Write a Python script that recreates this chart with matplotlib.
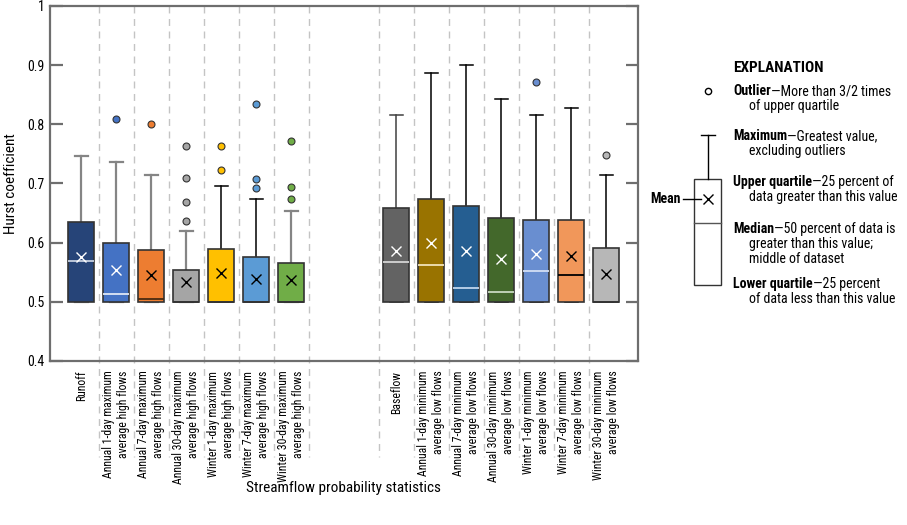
import matplotlib

matplotlib.use("Agg")
import matplotlib.pyplot as plt
from matplotlib.lines import Line2D
from matplotlib.patches import Rectangle
from matplotlib.ticker import FormatStrFormatter, MultipleLocator

# ---- data --------------------------------------------------------------------
labels = [
    "Runoff",
    "Annual 1-day maximum\naverage high flows",
    "Annual 7-day maximum\naverage high flows",
    "Annual 30-day maximum\naverage high flows",
    "Winter 1-day maximum\naverage high flows",
    "Winter 7-day maximum\naverage high flows",
    "Winter 30-day maximum\naverage high flows",
    "Baseflow",
    "Annual 1-day minimum\naverage low flows",
    "Annual 7-day minimum\naverage low flows",
    "Annual 30-day minimum\naverage low flows",
    "Winter 1-day minimum\naverage low flows",
    "Winter 7-day minimum\naverage low flows",
    "Winter 30-day minimum\naverage low flows",
]
q1 = [0.5] * 14
q3 = [0.635, 0.600, 0.588, 0.553, 0.589, 0.575, 0.565,
      0.659, 0.673, 0.662, 0.642, 0.638, 0.638, 0.591]
median = [0.569, 0.514, 0.504, 0.500, 0.500, 0.500, 0.500,
          0.568, 0.563, 0.523, 0.516, 0.552, 0.546, 0.500]
mean = [0.575, 0.554, 0.546, 0.533, 0.548, 0.538, 0.537,
        0.586, 0.599, 0.586, 0.573, 0.580, 0.577, 0.547]
whisker_hi = [0.746, 0.737, 0.715, 0.620, 0.696, 0.674, 0.653,
              0.816, 0.887, 0.901, 0.842, 0.815, 0.828, 0.715]
outliers = [[], [0.809], [0.801], [0.637, 0.669, 0.710, 0.763], [0.722, 0.763],
            [0.692, 0.707, 0.834], [0.673, 0.694, 0.772],
            [], [], [], [], [0.872], [], [0.748]]

# ---- styles --------------------------------------------------------------------
box_colors = ["#264478", "#4472c4", "#ed7d31", "#a5a5a5", "#ffc000", "#5b9bd5", "#70ad47",
              "#636363", "#997300", "#255e91", "#43682b", "#698ed0", "#f1975a", "#b7b7b7"]
median_colors = ["#c5cfe0", "#dfe7f5", "#4a2a10", "#333333", "#333333", "#333333", "#333333",
                 "#d4d4d4", "#f2e3b8", "#c0d5ec", "#c9d9c0", "#d3def4", "#000000", "#333333"]
mean_colors = ["white", "white", "black", "black", "black", "black", "black",
               "white", "white", "white", "white", "white", "black", "black"]
whisker_colors = ["#858585", "#858585", "#858585", "#858585", "black", "black", "#858585",
                  "#404040", "black", "black", "black", "black", "black", "black"]

positions = list(range(7)) + list(range(9, 16))
separators = [p + 0.5 for p in positions[:6]] + [6.5] + [p - 0.5 for p in positions[7:]]

plt.rcParams["font.family"] = ["Roboto Condensed", "Archivo Narrow", "DejaVu Sans"]

fig = plt.figure(figsize=(9.07, 5.25), dpi=100)
ax = fig.add_axes([50 / 907, 1 - 361 / 525, 588 / 907, 355 / 525])

stats = []
for i in range(len(labels)):
    stats.append(dict(q1=q1[i], q3=q3[i], med=median[i], mean=mean[i],
                      whislo=q1[i], whishi=whisker_hi[i], fliers=outliers[i]))

art = ax.bxp(stats, positions=positions, widths=0.76, capwidths=0.38,
             patch_artist=True, showmeans=True, showfliers=True)

for i, box in enumerate(art["boxes"]):
    box.set_facecolor(box_colors[i])
    box.set_edgecolor("#333333")
    box.set_linewidth(1.2)
    box.set_zorder(3)
    art["medians"][i].set(color=median_colors[i], linewidth=1.3, zorder=4)
    art["means"][i].set(marker="x", markersize=7, markeredgewidth=1.0,
                        markeredgecolor=mean_colors[i], zorder=5)
    for j in (2 * i, 2 * i + 1):
        lw = 1.6 if whisker_colors[i] == "#858585" else 1.1
        art["whiskers"][j].set(color=whisker_colors[i], linewidth=lw, zorder=2)
        art["caps"][j].set(color=whisker_colors[i], linewidth=lw, zorder=2)
    art["fliers"][i].set(marker="o", markersize=5, markerfacecolor=box_colors[i],
                         markeredgecolor="#333333", markeredgewidth=0.8, zorder=5)

# dashed separators, running down through the label area
trans = ax.get_xaxis_transform()
for s in separators:
    ax.add_line(Line2D([s, s], [1, -0.27], transform=trans, clip_on=False,
                       color="#c4c4c4", linewidth=1.0, linestyle=(0, (5, 4)), zorder=0))

ax.set_xlim(-0.89, 15.91)
ax.set_ylim(0.4, 1.0)
ax.yaxis.set_major_locator(MultipleLocator(0.1))
ax.yaxis.set_major_formatter(FormatStrFormatter("%g"))
ax.tick_params(axis="y", direction="in", length=9, width=1.6, color="#6e6e6e",
               right=True, labelsize=10, pad=4)
ax.set_xticks(positions)
ax.set_xticklabels(labels, rotation=90, ha="center", va="top", multialignment="right",
                   fontsize=8.5, linespacing=1.15)
ax.tick_params(axis="x", length=0, pad=7)
for sp in ax.spines.values():
    sp.set_color("#6e6e6e")
    sp.set_linewidth(1.6)

ax.set_ylabel("Hurst coefficient", fontsize=11)
ax.yaxis.set_label_coords(-32 / 588, 0.5)
fig.text(343 / 907, 1 - 488 / 525, "Streamflow probability statistics",
         ha="center", va="center", fontsize=11)

# ---- explanation (drawn in pixel coordinates) ---------------------------------
lg = fig.add_axes([0, 0, 1, 1])
lg.set_xlim(0, 907)
lg.set_ylim(525, 0)
lg.axis("off")

fs = 10
lg.text(733, 68, "EXPLANATION", fontsize=11, fontweight="bold", va="center")


def entry(y, bold, rest, more=()):
    t = lg.text(733, y, bold, fontsize=fs, fontweight="bold", va="baseline")
    lg.annotate(rest, xy=(1, 0), xycoords=t, va="bottom", fontsize=fs)
    for k, line in enumerate(more):
        lg.text(749, y + 15 * (k + 1), line, fontsize=fs, va="baseline")


entry(95, "Outlier", "\u2014More than 3/2 times", ["of upper quartile"])
entry(140, "Maximum", "\u2014Greatest value,", ["excluding outliers"])
entry(186, "Upper quartile", "\u201425 percent of", ["data greater than this value"])
entry(233, "Median", "\u201450 percent of data is",
      ["greater than this value;", "middle of dataset"])
entry(288, "Lower quartile", "\u201425 percent", ["of data less than this value"])

lg.plot([708], [91], marker="o", markersize=4.5, markerfacecolor="white",
        markeredgecolor="black", markeredgewidth=1.0)
lg.plot([701, 715], [135, 135], color="black", linewidth=1.0)
lg.plot([708, 708], [135, 179], color="black", linewidth=1.0)
lg.add_patch(Rectangle((694, 179), 27, 106, facecolor="white", edgecolor="#333333",
                       linewidth=1.0))
lg.plot([694, 721], [223, 223], color="#555555", linewidth=1.0)
lg.plot([708], [199], marker="x", markersize=7, markeredgecolor="black",
        markeredgewidth=1.0)
lg.plot([683, 701], [199, 199], color="black", linewidth=1.0)
lg.text(681, 199, "Mean", fontsize=fs, fontweight="bold", ha="right", va="center")

fig.savefig("out.png", dpi=100)
